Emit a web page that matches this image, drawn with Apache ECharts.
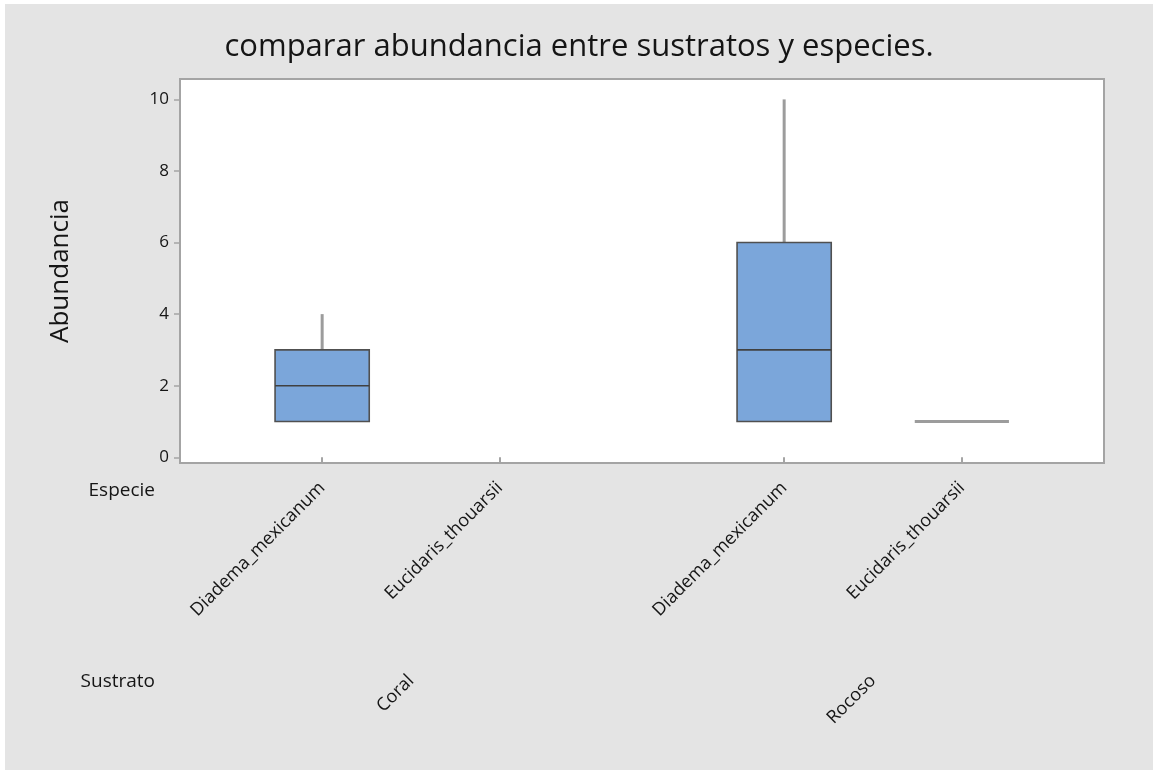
<!DOCTYPE html>
<html>
<head>
<meta charset="utf-8">
<script src="https://cdn.jsdelivr.net/npm/echarts@6/dist/echarts.min.js"></script>
<style>
  html, body { margin: 0; padding: 0; background: #ffffff; }
  #chart { position: absolute; left: 5px; top: 4px; width: 1148px; height: 766px; }
</style>
</head>
<body>
<div id="chart"></div>
<script>
// Grouping factors
const sustratos = ['Coral', 'Rocoso'];
const especies = ['Diadema_mexicanum', 'Eucidaris_thouarsii'];

// Five-number summary per Sustrato x Especie cell (Coral/Diadema, Coral/Eucidaris, Rocoso/Diadema, Rocoso/Eucidaris)
const minimo  = [1, null, 1, 1];
const q1      = [1, null, 1, 1];
const mediana = [2, null, 3, 1];
const q3      = [3, null, 6, 1];
const maximo  = [4, null, 10, 1];

// Y tick labels
const yTicks = [0, 2, 4, 6, 8, 10];

// Layout of the cells along x: one unit per species, wider gap between substrates
const GROUP_STEP = 2.6;
const BOX_WIDTH = 0.53;
const cells = [];
sustratos.forEach((s, g) => {
  especies.forEach((e, k) => {
    cells.push({ x: 1 + g * GROUP_STEP + k, sustrato: s, especie: e });
  });
});
const xPos = cells.map(c => c.x);
const groupCenters = sustratos.map((s, g) => 1 + g * GROUP_STEP + (especies.length - 1) / 2);

const boxData = cells
  .map((c, i) => [c.x, minimo[i], q1[i], mediana[i], q3[i], maximo[i]])
  .filter(d => d[1] !== null);

const FONT = '"Open Sans", "Noto Sans", sans-serif';
const TEXT = '#151515';
const WHISKER = { stroke: '#9c9c9c', lineWidth: 3 };

function renderBox(params, api) {
  const x = api.value(0);
  const lo = api.value(1), a = api.value(2), m = api.value(3), b = api.value(4), hi = api.value(5);
  const pLo = api.coord([x, lo]);
  const pA = api.coord([x, a]);
  const pM = api.coord([x, m]);
  const pB = api.coord([x, b]);
  const pHi = api.coord([x, hi]);
  const half = api.size([BOX_WIDTH, 0])[0] / 2;
  const cx = pM[0];
  const children = [];
  if (hi > b) {
    children.push({ type: 'line', shape: { x1: cx, y1: pB[1], x2: cx, y2: pHi[1] }, style: WHISKER });
  }
  if (lo < a) {
    children.push({ type: 'line', shape: { x1: cx, y1: pLo[1], x2: cx, y2: pA[1] }, style: WHISKER });
  }
  if (b > a) {
    children.push({
      type: 'rect',
      shape: { x: cx - half, y: pB[1], width: 2 * half, height: pA[1] - pB[1] },
      style: { fill: '#7ba6da', stroke: '#505050', lineWidth: 1.6 }
    });
    children.push({
      type: 'line',
      shape: { x1: cx - half, y1: pM[1], x2: cx + half, y2: pM[1] },
      style: { stroke: '#404040', lineWidth: 1.6 }
    });
  } else {
    // collapsed box: all quartiles equal
    children.push({
      type: 'line',
      shape: { x1: cx - half, y1: pA[1], x2: cx + half, y2: pA[1] },
      style: WHISKER
    });
  }
  return { type: 'group', children };
}

const chart = echarts.init(document.getElementById('chart'));
chart.setOption({
  backgroundColor: '#e4e4e4',
  animation: false,
  title: {
    text: 'comparar abundancia entre sustratos y especies.',
    left: 'center',
    top: 23,
    textStyle: { fontFamily: FONT, fontSize: 31, fontWeight: 'normal', color: TEXT }
  },
  grid: {
    left: 175, top: 75, width: 924, height: 384,
    show: true, backgroundColor: '#ffffff', borderColor: '#a4a4a4', borderWidth: 2
  },
  xAxis: [{
    type: 'value', min: 0.2, max: 5.4, position: 'bottom',
    axisLine: { show: false }, splitLine: { show: false },
    axisTick: { show: true, customValues: xPos, length: 6, lineStyle: { color: '#a4a4a4', width: 2 } },
    axisLabel: {
      customValues: xPos, rotate: 45, margin: 22,
      fontFamily: FONT, fontSize: 18, color: TEXT,
      formatter: v => {
        const c = cells.find(cc => Math.abs(cc.x - v) < 1e-6);
        return c ? c.especie : '';
      }
    }
  }, {
    type: 'value', min: 0.2, max: 5.4, position: 'bottom', offset: 0,
    axisLine: { show: false }, axisTick: { show: false }, splitLine: { show: false },
    axisLabel: {
      customValues: groupCenters, rotate: 45, margin: 215,
      fontFamily: FONT, fontSize: 18, color: TEXT,
      formatter: v => {
        const g = groupCenters.findIndex(gc => Math.abs(gc - v) < 1e-6);
        return g >= 0 ? sustratos[g] : '';
      }
    }
  }],
  yAxis: {
    type: 'value', min: -0.16, max: 10.57,
    axisLine: { show: false }, splitLine: { show: false },
    axisTick: { show: true, customValues: yTicks, length: 6, lineStyle: { color: '#a4a4a4', width: 1.5 } },
    axisLabel: { customValues: yTicks, margin: 11, fontFamily: FONT, fontSize: 17, color: TEXT },
    name: 'Abundancia', nameLocation: 'middle', nameRotate: 90, nameGap: 106,
    nameTextStyle: { fontFamily: FONT, fontSize: 26, color: TEXT }
  },
  graphic: [
    { type: 'text', right: 1148 - 150, top: 477,
      style: { text: 'Especie', font: '19px ' + FONT, fill: TEXT, textAlign: 'right' } },
    { type: 'text', right: 1148 - 150, top: 668,
      style: { text: 'Sustrato', font: '19px ' + FONT, fill: TEXT, textAlign: 'right' } }
  ],
  series: [{
    type: 'custom',
    xAxisIndex: 0,
    yAxisIndex: 0,
    renderItem: renderBox,
    encode: { x: 0, y: [1, 2, 3, 4, 5] },
    data: boxData
  }]
});
</script>
</body>
</html>
